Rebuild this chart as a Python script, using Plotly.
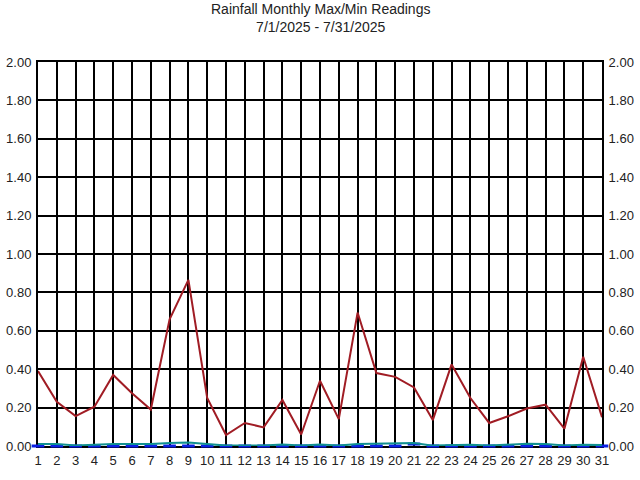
import plotly.graph_objects as go

days = list(range(1, 32))

# daily max rainfall (in)
max_rain = [0.39, 0.23, 0.156, 0.205, 0.37, 0.275, 0.19, 0.66, 0.865, 0.25,
            0.057, 0.12, 0.097, 0.24, 0.06, 0.34, 0.14, 0.695, 0.38, 0.36,
            0.305, 0.135, 0.425, 0.25, 0.12, 0.155, 0.195, 0.215, 0.09, 0.465,
            0.15]

# daily average rainfall (in)
avg_rain = [0.01, 0.01, 0.003, 0.008, 0.01, 0.01, 0.01, 0.015, 0.018, 0.01,
            0.002, 0.002, 0.002, 0.008, 0.002, 0.008, 0.002, 0.01, 0.012, 0.012,
            0.015, 0.002, 0.003, 0.006, 0.002, 0.008, 0.012, 0.01, 0.003, 0.006,
            0.005]

# daily min rainfall (in)
min_rain = [0.0] * 20 + [0.01] + [0.0] * 10

y_ticks = [0.0, 0.2, 0.4, 0.6, 0.8, 1.0, 1.2, 1.4, 1.6, 1.8, 2.0]

fig = go.Figure()

fig.add_trace(go.Scatter(
    x=days, y=min_rain, mode="markers",
    marker=dict(symbol="line-ew", size=9, line=dict(color="#0a1ee6", width=3)),
    hoverinfo="skip", showlegend=False, cliponaxis=False,
))
fig.add_trace(go.Scatter(
    x=days, y=avg_rain, mode="lines",
    line=dict(color="#109090", width=2),
    showlegend=False,
))
fig.add_trace(go.Scatter(
    x=days, y=max_rain, mode="lines",
    line=dict(color="#a01c24", width=2),
    showlegend=False,
))
# invisible trace so the right axis is drawn
fig.add_trace(go.Scatter(
    x=days, y=max_rain, yaxis="y2", mode="lines",
    line=dict(color="rgba(0,0,0,0)"), hoverinfo="skip", showlegend=False,
))

font_family = "Liberation Sans, Arial, sans-serif"
axis_font = dict(family=font_family, size=13, color="#222222")

fig.update_layout(
    width=640, height=480,
    margin=dict(l=38, r=38, t=62, b=34),
    paper_bgcolor="white", plot_bgcolor="white",
    annotations=[dict(
        text="Rainfall Monthly Max/Min Readings<br>7/1/2025 - 7/31/2025",
        xref="paper", yref="paper", x=0.5, y=1.163,
        xanchor="center", yanchor="top", showarrow=False,
        font=dict(family=font_family, size=14, color="#222222"),
    )],
    xaxis=dict(
        range=[1, 31], tickmode="array", tickvals=days,
        ticktext=[str(d) for d in days],
        showgrid=True, gridcolor="black", gridwidth=2,
        showline=True, linecolor="black", linewidth=2, mirror=True,
        zeroline=False, tickfont=axis_font, automargin=False,
        ticks="outside", ticklen=1, tickcolor="rgba(0,0,0,0)",
        layer="below traces",
    ),
    yaxis=dict(
        range=[0, 2], tickmode="array", tickvals=y_ticks,
        ticktext=[f"{v:.2f}" for v in y_ticks],
        showgrid=True, gridcolor="black", gridwidth=2,
        showline=True, linecolor="black", linewidth=2, mirror=True,
        zeroline=False, tickfont=axis_font, automargin=False,
        ticks="outside", ticklen=2, tickcolor="rgba(0,0,0,0)",
        layer="below traces",
    ),
    yaxis2=dict(
        range=[0, 2], tickmode="array", tickvals=y_ticks,
        ticktext=[f"{v:.2f}" for v in y_ticks],
        overlaying="y", side="right", showgrid=False,
        zeroline=False, tickfont=axis_font, automargin=False,
        ticks="outside", ticklen=3, tickcolor="rgba(0,0,0,0)",
        layer="below traces",
    ),
)

# drop the default 8px page margin so the figure sits at the window's corner
fig.write_html("out.html", config={"displayModeBar": False},
               post_script="document.body.style.margin='0';")
